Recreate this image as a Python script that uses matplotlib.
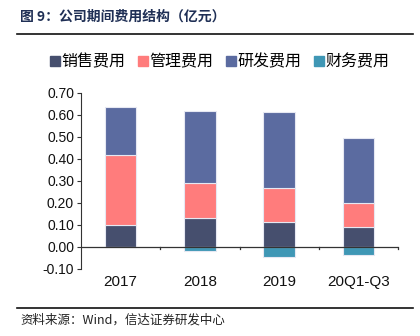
import numpy as np
import matplotlib.pyplot as plt
from matplotlib.lines import Line2D

plt.rcParams['font.family'] = ['Liberation Sans', 'Noto Sans CJK SC', 'DejaVu Sans']

# ============================================================
# Data (亿元)
# ============================================================
categories = ["2017", "2018", "2019", "20Q1-Q3"]
sales = [0.10, 0.134, 0.114, 0.093]       # 销售费用
admin = [0.32, 0.155, 0.155, 0.109]       # 管理费用
rnd = [0.215, 0.33, 0.346, 0.292]         # 研发费用
finance = [0.0, -0.018, -0.044, -0.037]   # 财务费用

series_names = ["销售费用", "管理费用", "研发费用", "财务费用"]
colors = ["#464F6E", "#FF7C7C", "#5B6BA0", "#3F97B5"]
y_ticks = [-0.10, 0.00, 0.10, 0.20, 0.30, 0.40, 0.50, 0.60, 0.70]

# ============================================================
# Figure
# ============================================================
fig = plt.figure(figsize=(4.2, 3.36), dpi=100)
ax = fig.add_axes([81 / 420, 1 - 269 / 336, (398 - 81) / 420, (269 - 93) / 336])

x = np.arange(len(categories))
w = 0.4
edge = dict(edgecolor="#E6E8F2", linewidth=0.8)

ax.bar(x, sales, w, color=colors[0], label=series_names[0], **edge)
ax.bar(x, admin, w, bottom=sales, color=colors[1], label=series_names[1], **edge)
bottom2 = np.array(sales) + np.array(admin)
ax.bar(x, rnd, w, bottom=bottom2, color=colors[2], label=series_names[2], **edge)
ax.bar(x, finance, w, color=colors[3], label=series_names[3], **edge)

ax.set_xlim(-0.5, len(categories) - 0.5)
ax.set_ylim(-0.10, 0.70)
ax.set_yticks(y_ticks)
ax.set_yticklabels([f"{v:.2f}" for v in y_ticks], fontsize=10)

# x axis drawn at y=0 with ticks between categories
for s in ["top", "right", "bottom"]:
    ax.spines[s].set_visible(False)
ax.spines["left"].set_color("#333333")
ax.spines["left"].set_linewidth(0.8)
ax.axhline(0, color="#333333", linewidth=0.9, zorder=3)
for b in np.arange(0.5, len(categories), 1.0):
    ax.plot([b, b], [0, -0.008], color="#333333", linewidth=0.9,
            clip_on=False, zorder=3)
ax.set_xticks([])
for i, c in enumerate(categories):
    ax.text(i, -0.128, c, ha="center", va="top", fontsize=11, color="#111111")

ax.tick_params(axis="y", direction="out", length=3, width=0.8,
               color="#333333", labelcolor="#111111", pad=2)

# legend
handles = [Line2D([0], [0], marker="s", linestyle="", markersize=6.5,
                  markerfacecolor=c, markeredgecolor=c) for c in colors]
fig.legend(handles, series_names, loc="center", ncol=4,
           bbox_to_anchor=(220 / 420, 1 - 62 / 336), frameon=False,
           prop={"family": ["Noto Sans CJK SC"], "size": 11.5},
           handlelength=0.6, handletextpad=0.1, columnspacing=0.8,
           borderaxespad=0)

# title + rules + source
fig.text(20 / 420, 1 - 17 / 336, "图 9：公司期间费用结构（亿元）",
         fontsize=10, fontweight="bold", color="#1F2F55",
         family=["Noto Sans CJK SC"], va="center", ha="left")
fig.add_artist(Line2D([17 / 420, 413 / 420], [1 - 34 / 336] * 2,
                      color="#111111", linewidth=1.2))
fig.add_artist(Line2D([17 / 420, 413 / 420], [1 - 308 / 336] * 2,
                      color="#111111", linewidth=1.2))
fig.text(20 / 420, 1 - 320 / 336, "资料来源：Wind，信达证券研发中心",
         fontsize=9, color="#222222",
         family=["Noto Sans CJK SC", "Liberation Sans"], va="center", ha="left")

fig.savefig("out.png", dpi=100)
